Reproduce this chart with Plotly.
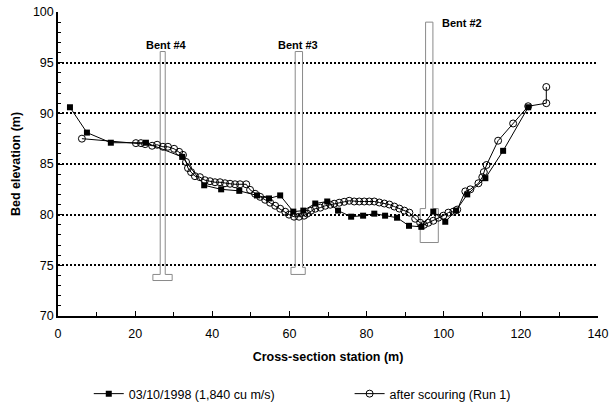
import plotly.graph_objects as go

# ---- data ----
s1_name = "03/10/1998 (1,840 cu m/s)"
s1_x = [3.1, 7.5, 13.7, 22.8, 32.2, 37.9, 42.3, 47.0, 51.6, 54.7, 57.6, 61.0, 63.6,
        66.7, 69.8, 72.6, 76.0, 79.1, 82.0, 84.8, 87.9, 91.0, 94.2, 97.3, 100.4,
        103.2, 106.1, 110.8, 115.4, 121.9]
s1_y = [90.6, 88.1, 87.1, 87.1, 85.7, 82.9, 82.5, 82.35, 81.9, 81.6, 81.9, 80.3, 80.4,
        81.1, 81.3, 80.4, 79.8, 79.9, 80.1, 79.9, 79.7, 78.9, 78.8, 80.3, 79.3,
        80.4, 82.0, 83.6, 86.3, 90.6]

s2_name = "after scouring (Run 1)"
s2_x = [6.2, 20.2, 21.5, 22.6, 24.4, 25.7, 27.2, 28.5, 30.1, 31.4, 32.4, 33.2, 33.7,
        34.5, 35.5, 36.8, 38.1, 39.4, 40.7, 42.0, 43.3, 44.6, 45.9, 47.2, 48.8,
        49.8, 51.1, 52.4, 53.7, 55.0, 56.3, 57.6, 58.9, 59.9, 61.2, 62.5, 63.8,
        64.6, 65.6, 66.7, 68.0, 69.3, 70.6, 71.6, 72.9, 74.2, 75.5, 76.8, 78.1,
        79.4, 80.7, 82.0, 83.3, 84.6, 85.9, 87.2, 88.5, 89.8, 91.1, 92.6, 93.9,
        94.9, 96.0, 97.3, 98.6, 99.9, 101.2, 102.5, 103.5, 105.6, 106.9, 109.0,
        110.0, 110.4, 111.1, 114.1, 118.0, 121.9, 126.6, 126.6]
s2_y = [87.5, 87.06, 87.06, 86.96, 86.8, 86.9, 86.7, 86.7, 86.5, 86.2, 85.9, 85.2, 84.6,
        84.2, 83.8, 83.7, 83.4, 83.3, 83.2, 83.2, 83.1, 83.05, 83.0, 83.0, 83.0,
        82.45, 82.06, 81.76, 81.47, 81.18, 80.88, 80.59, 80.29, 80.0, 79.8, 79.8, 79.9,
        80.1, 80.39, 80.59, 80.69, 80.88, 80.98, 81.08, 81.18, 81.27, 81.37, 81.3, 81.3,
        81.3, 81.3, 81.3, 81.2, 81.1, 81.0, 80.8, 80.6, 80.4, 80.2, 79.6, 79.2,
        79.0, 79.2, 79.4, 79.7, 79.9, 80.2, 80.3, 80.5, 82.3, 82.5, 83.1,
        83.7, 84.2, 84.9, 87.3, 89.0, 90.7, 91.0, 92.6]

# bridge piers (data units)
pier_names = ["Bent #4", "Bent #3", "Bent #2"]
pier_shaft_left = [26.5, 61.5, 95.3]
pier_shaft_right = [27.8, 63.4, 97.2]
pier_top = [96.1, 96.1, 99.0]
pier_footing_left = [24.6, 60.4, 93.9]
pier_footing_right = [29.6, 64.1, 98.6]
pier_footing_top = [74.1, 74.8, 80.6]
pier_footing_bottom = [73.5, 74.1, 77.25]
pier_label_x = [28.2, 62.1, 99.1]

x_ticks = [0, 20, 40, 60, 80, 100, 120, 140]
y_ticks = [70, 75, 80, 85, 90, 95, 100]

FONT = "Liberation Sans, Arial, sans-serif"
fig = go.Figure()

# piers
for i in range(len(pier_names)):
    xl, xr = pier_shaft_left[i], pier_shaft_right[i]
    fl, fr = pier_footing_left[i], pier_footing_right[i]
    t, ft, fb = pier_top[i], pier_footing_top[i], pier_footing_bottom[i]
    px = [xl, xl, xr, xr, fr, fr, fl, fl, xl]
    py = [ft, t, t, ft, ft, fb, fb, ft, ft]
    fig.add_trace(go.Scatter(x=px, y=py, mode="lines", line=dict(color="#8a8a8a", width=1),
                             showlegend=False, hoverinfo="skip"))

fig.add_trace(go.Scatter(x=s1_x, y=s1_y, name=s1_name, mode="lines+markers",
                         line=dict(color="black", width=1),
                         marker=dict(symbol="square", size=6, color="black"),
                         legend="legend"))
fig.add_trace(go.Scatter(x=s2_x, y=s2_y, name=s2_name, mode="lines+markers",
                         line=dict(color="black", width=1),
                         marker=dict(symbol="circle-open", size=7, color="black",
                                     line=dict(width=1, color="black")),
                         legend="legend2"))

# pier labels
for i, nm in enumerate(pier_names):
    if i < 2:
        fig.add_annotation(x=pier_label_x[i], y=pier_top[i],
                           text="<b>%s</b>" % nm, showarrow=False, xanchor="center",
                           yanchor="bottom", yshift=-1,
                           font=dict(family=FONT, size=11, color="black"))
    else:
        fig.add_annotation(x=pier_label_x[i], y=pier_top[i], text="<b>%s</b>" % nm,
                           showarrow=False, xanchor="left", yanchor="middle",
                           yshift=-1,
                           font=dict(family=FONT, size=11, color="black"))

leg_common = dict(orientation="h", xanchor="left", yanchor="middle", itemwidth=30,
                  font=dict(family=FONT, size=12.5, color="black"),
                  bgcolor="rgba(0,0,0,0)")
fig.update_layout(
    width=615, height=407,
    margin=dict(l=58, r=17, t=12, b=91, autoexpand=False),
    paper_bgcolor="white", plot_bgcolor="white",
    font=dict(family=FONT, size=12.5, color="black"),
    showlegend=True,
    legend=dict(x=0.057, y=-0.2566, **leg_common),
    legend2=dict(x=0.540, y=-0.2566, **leg_common),
)
fig.update_xaxes(range=[0, 140], tickvals=x_ticks, ticktext=[str(v) for v in x_ticks],
                 ticks="inside", ticklen=5, tickcolor="black", tickwidth=1,
                 minor=dict(dtick=10, ticks="inside", ticklen=4, tickcolor="black", showgrid=False),
                 showline=True, linecolor="black", linewidth=1.5, showgrid=False, zeroline=False,
                 ticklabelstandoff=5,
                 title=dict(text="<b>Cross-section station (m)</b>", standoff=12,
                            font=dict(family=FONT, size=12.5)),
                 tickfont=dict(family=FONT, size=12.5))
fig.update_yaxes(range=[70, 100], tickvals=y_ticks, ticktext=[str(v) for v in y_ticks],
                 ticks="inside", ticklen=5, tickcolor="black", tickwidth=1,
                 minor=dict(dtick=1, ticks="inside", ticklen=3, tickcolor="black", showgrid=False),
                 showline=True, linecolor="black", linewidth=1.5,
                 showgrid=True, gridcolor="black", gridwidth=2, griddash="2px,2px",
                 zeroline=False,
                 title=dict(text="<b>Bed elevation (m)</b>", standoff=10,
                            font=dict(family=FONT, size=12.5)),
                 tickfont=dict(family=FONT, size=12.5))

fig.write_html("out.html", config={"displayModeBar": False},
               post_script="document.body.style.margin='0';")
